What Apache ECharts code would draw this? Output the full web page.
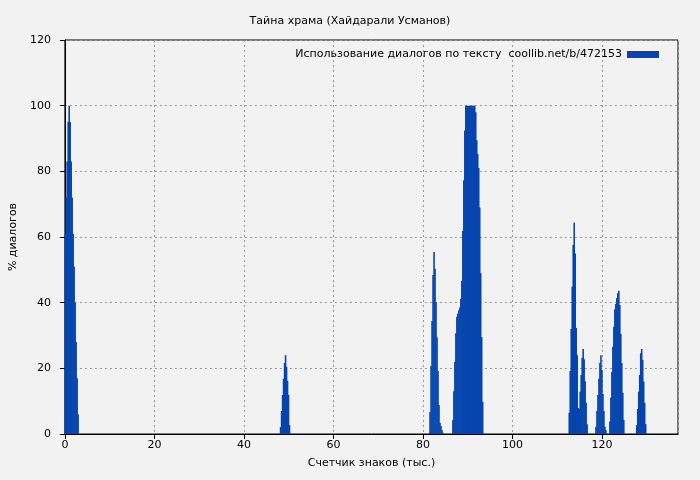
<!DOCTYPE html>
<html>
<head>
<meta charset="utf-8">
<script src="https://cdn.jsdelivr.net/npm/echarts@6/dist/echarts.min.js"></script>
<style>
html,body{margin:0;padding:0;background:#f2f2f2;}
#chart{width:700px;height:480px;}
</style>
</head>
<body>
<div id="chart"></div>
<script>
// шаг столбиков (тыс. знаков)
var barStep = 0.222;
// начала пиков по оси X
var peakStarts = [0.07, 48.2, 81.6, 86.7, 112.7, 118.67, 121.78, 127.78];
// высоты столбиков (% диалогов) в каждом пике
var peakHeights = [
	[61, 72, 83, 95, 100, 95, 83, 72, 61, 51, 40, 28, 17, 6],
	[2.1, 7, 11.9, 16.8, 21.6, 24, 20.5, 16.2, 11.9, 2.7],
	[6.7, 20.7, 34.4, 48.4, 55.4, 50.3, 40.2, 29.5, 19.2, 8.8, 3.4, 2.4, 1.2, 0.4],
	[4.3, 13, 22, 30.7, 35.7, 36.7, 37.7, 38.5, 41.2, 46.6, 61.8, 77.3, 92.4, 100, 100, 100, 100, 100, 100, 100, 100, 100, 100, 98, 89.5, 85.3, 81, 69, 49, 29.5, 9.8],
	[6.5, 19.2, 32, 44.9, 57.6, 64.4, 55, 32.3, 24, 7.9, 7.7, 12.9, 18, 23.2, 25.9, 22.8, 16.1, 9.5, 3],
	[2.2, 7, 11.9, 16.8, 21.6, 24, 19.5, 12.2, 7, 2.2, 1.2],
	[3.8, 11.1, 18.9, 26.6, 32.7, 38, 39.6, 41.4, 42.9, 43.6, 39.3, 30.5, 21.6, 12.6, 4.3],
	[2.7, 7.6, 12.9, 18, 24.6, 25.9, 22.6, 16, 9.5, 3]
];
var xTicks = [0, 20, 40, 60, 80, 100, 120];

var seriesData = [];
for (var p = 0; p < peakStarts.length; p++) {
	for (var i = 0; i < peakHeights[p].length; i++) {
		seriesData.push([peakStarts[p] + i * barStep, peakHeights[p][i]]);
	}
}

var chart = echarts.init(document.getElementById('chart'));
var txt = {color: '#000', fontFamily: 'DejaVu Sans', fontSize: 11};
var option = {
	backgroundColor: '#f2f2f2',
	animation: false,
	title: {
		text: 'Тайна храма (Хайдарали Усманов)',
		left: 'center',
		top: 11,
		textStyle: {color: '#000', fontFamily: 'DejaVu Sans', fontSize: 11, fontWeight: 'normal'}
	},
	legend: {
		right: 36,
		top: 44,
		align: 'right',
		itemWidth: 32,
		itemHeight: 7,
		itemGap: 0,
		textStyle: txt,
		data: [{name: 'Использование диалогов по тексту  coollib.net/b/472153', icon: 'rect'}]
	},
	grid: {left: 62, right: 22, top: 40, bottom: 46, show: true, borderColor: '#000', borderWidth: 1},
	xAxis: {
		type: 'value',
		min: 0,
		max: 137,
		interval: 20,
		name: 'Счетчик знаков (тыс.)',
		nameLocation: 'middle',
		nameGap: 24,
		nameTextStyle: txt,
		axisLine: {lineStyle: {color: '#000'}},
		axisTick: {inside: false, length: 5, lineStyle: {color: '#000'}},
		axisLabel: Object.assign({showMaxLabel: false, margin: 6}, txt),
		splitLine: {show: true, lineStyle: {color: '#999', type: [2, 3]}}
	},
	yAxis: {
		type: 'value',
		min: 0,
		max: 120,
		interval: 20,
		name: '% диалогов',
		nameLocation: 'middle',
		nameGap: 45,
		nameTextStyle: txt,
		axisLine: {show: true, lineStyle: {color: '#000'}},
		axisTick: {length: 5, lineStyle: {color: '#000'}},
		axisLabel: Object.assign({margin: 14}, txt),
		splitLine: {show: true, lineStyle: {color: '#999', type: [2, 3]}}
	},
	series: [{
		name: 'Использование диалогов по тексту  coollib.net/b/472153',
		type: 'bar',
		barWidth: 1.6,
		itemStyle: {color: '#0645ad'},
		data: seriesData
	}]
};
chart.setOption(option);
</script>
</body>
</html>
